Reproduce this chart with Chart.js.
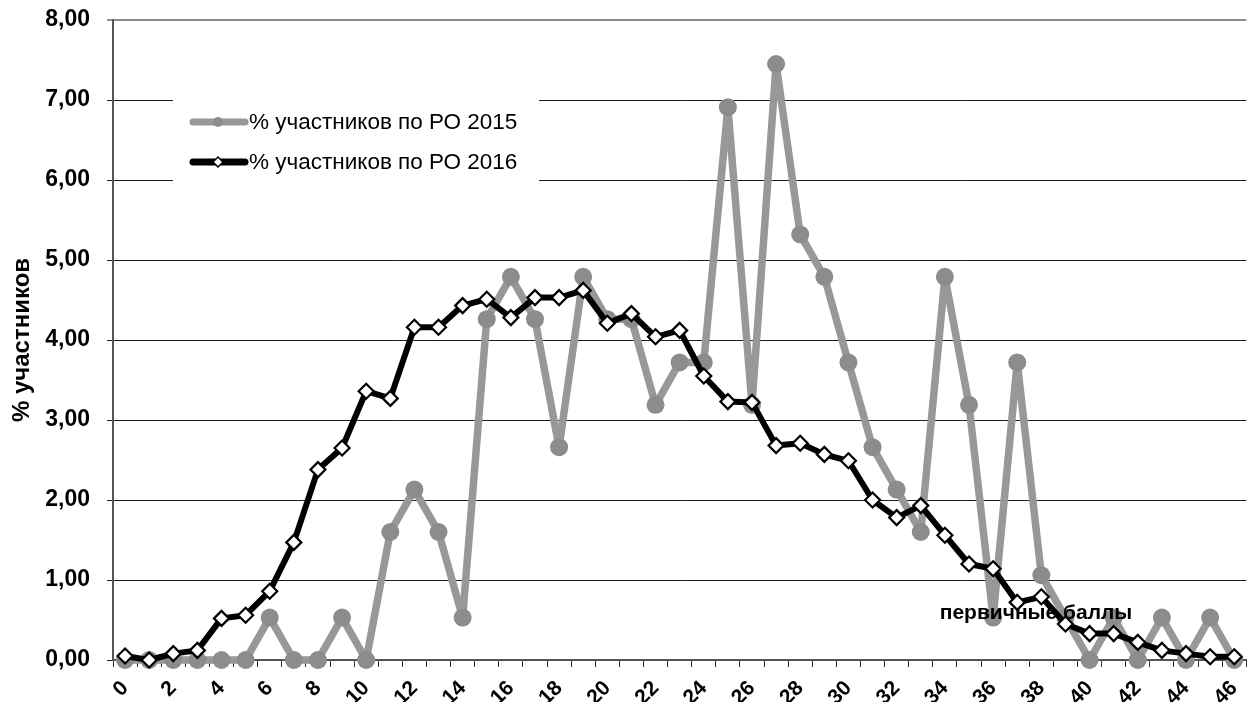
<!DOCTYPE html>
<html>
<head>
<meta charset="utf-8">
<script src="https://cdn.jsdelivr.net/npm/chart.js@4/dist/chart.umd.min.js"></script>
<style>
  html, body { margin: 0; padding: 0; background: #fff; overflow: hidden; }
  canvas { display: block; }
</style>
</head>
<body>
<canvas id="grafik" width="1256" height="702"></canvas>
<script>
// первичные баллы 0..46
const scores = [];
for (let i = 0; i <= 46; i++) scores.push(String(i));

const label2015 = '% участников по РО 2015';
const label2016 = '% участников по РО 2016';

const values2015 = [0, 0, 0, 0, 0, 0, 0.53, 0, 0, 0.53,
  0, 1.60, 2.13, 1.60, 0.53, 4.26, 4.79, 4.26, 2.66, 4.79,
  4.26, 4.26, 3.19, 3.72, 3.72, 6.91, 3.19, 7.45, 5.32, 4.79,
  3.72, 2.66, 2.13, 1.60, 4.79, 3.19, 0.53, 3.72, 1.06, 0.53,
  0, 0.53, 0, 0.53, 0, 0.53, 0];

const values2016 = [0.05, 0, 0.08, 0.12, 0.52, 0.56, 0.86, 1.47, 2.38, 2.65,
  3.36, 3.27, 4.16, 4.16, 4.43, 4.51, 4.28, 4.53, 4.53, 4.62,
  4.21, 4.33, 4.04, 4.12, 3.55, 3.23, 3.22, 2.68, 2.71, 2.57,
  2.49, 2.00, 1.78, 1.93, 1.56, 1.20, 1.14, 0.72, 0.79, 0.45,
  0.33, 0.33, 0.22, 0.12, 0.08, 0.04, 0.04];

const yTitle = '% участников';
const xTitle = 'первичные баллы';

const FONT = '"Liberation Sans", Arial, sans-serif';

// легенда внутри области графика + подпись оси X
const overlay = {
  id: 'overlay',
  afterDatasetDraw(chart, args) {
    // подпись поверх серой линии, но под чёрной
    if (args.index !== 1) return;
    const ctx = chart.ctx;
    ctx.save();
    ctx.font = 'bold 21px ' + FONT;
    ctx.fillStyle = '#000';
    ctx.textAlign = 'center';
    ctx.textBaseline = 'middle';
    ctx.fillText(xTitle, 1036, 613);
    ctx.restore();
  },
  afterDatasetsDraw(chart) {
    const ctx = chart.ctx;
    ctx.save();
    ctx.fillStyle = '#fff';
    ctx.fillRect(173, 88, 366, 106);

    const items = [
      { text: label2015, y: 122, color: '#989898', point: 'circle' },
      { text: label2016, y: 162, color: '#000', point: 'diamond' }
    ];
    items.forEach(it => {
      ctx.strokeStyle = it.color;
      ctx.lineWidth = 7;
      ctx.lineCap = 'round';
      ctx.beginPath();
      ctx.moveTo(193, it.y);
      ctx.lineTo(245, it.y);
      ctx.stroke();
      if (it.point === 'circle') {
        ctx.fillStyle = '#8c8c8c';
        ctx.beginPath();
        ctx.arc(218, it.y, 5, 0, Math.PI * 2);
        ctx.fill();
      } else {
        ctx.fillStyle = '#fff';
        ctx.strokeStyle = '#000';
        ctx.lineWidth = 1.5;
        ctx.beginPath();
        ctx.moveTo(213, it.y);
        ctx.lineTo(218, it.y - 5);
        ctx.lineTo(223, it.y);
        ctx.lineTo(218, it.y + 5);
        ctx.closePath();
        ctx.fill();
        ctx.stroke();
      }
      ctx.fillStyle = '#000';
      ctx.font = '22.5px ' + FONT;
      ctx.textAlign = 'left';
      ctx.textBaseline = 'middle';
      ctx.fillText(it.text, 249, it.y + 1);
    });
    ctx.restore();
  }
};

new Chart(document.getElementById('grafik').getContext('2d'), {
  type: 'line',
  data: {
    labels: scores,
    datasets: [
      {
        label: label2016,
        data: values2016,
        order: 0,
        borderColor: '#000',
        borderWidth: 6,
        borderJoinStyle: 'round',
        borderCapStyle: 'round',
        pointStyle: 'rectRot',
        pointRadius: 7.5,
        pointBackgroundColor: '#fff',
        pointBorderColor: '#000',
        pointBorderWidth: 2.2,
        tension: 0,
        clip: false
      },
      {
        label: label2015,
        data: values2015,
        order: 1,
        borderColor: '#989898',
        borderWidth: 7.5,
        borderJoinStyle: 'round',
        borderCapStyle: 'round',
        pointStyle: 'circle',
        pointRadius: 9,
        pointBackgroundColor: '#8c8c8c',
        pointBorderColor: '#8c8c8c',
        pointBorderWidth: 0,
        tension: 0,
        clip: false
      }
    ]
  },
  options: {
    responsive: false,
    animation: false,
    events: [],
    layout: { padding: { top: 20, right: 0, bottom: 0, left: 0 } },
    plugins: {
      legend: { display: false },
      tooltip: { enabled: false }
    },
    scales: {
      x: {
        type: 'category',
        offset: true,
        afterFit(s) { s.height = 42; s.paddingLeft = 0; s.paddingRight = 0; },
        grid: {
          offset: true,
          drawOnChartArea: false,
          drawTicks: true,
          tickLength: 7,
          color: '#333',
          lineWidth: 1
        },
        border: { display: true, color: '#555', width: 2 },
        ticks: {
          autoSkip: false,
          minRotation: 45,
          maxRotation: 45,
          padding: 9,
          color: '#000',
          font: { family: FONT, size: 21, weight: 'bold' },
          callback(v, i) { return i % 2 === 0 ? scores[i] : ''; }
        }
      },
      y: {
        min: 0,
        max: 8,
        afterFit(s) { s.width = 113; s.paddingTop = 0; s.paddingBottom = 0; },
        grid: {
          drawTicks: true,
          tickLength: 6,
          color: c => (c.tick && c.tick.value === 8) ? '#8c8c8c' : '#1e1e1e',
          lineWidth: c => (c.tick && c.tick.value === 8) ? 2 : 1
        },
        border: { display: true, color: '#555', width: 2 },
        title: {
          display: true,
          text: yTitle,
          color: '#000',
          font: { family: FONT, size: 24, weight: 'bold' },
          padding: { top: 8, bottom: 0 }
        },
        ticks: {
          stepSize: 1,
          padding: 17,
          color: '#000',
          font: { family: FONT, size: 23, weight: 'bold' },
          callback: v => v.toFixed(2).replace('.', ',')
        }
      }
    }
  },
  plugins: [overlay]
});
</script>
</body>
</html>
